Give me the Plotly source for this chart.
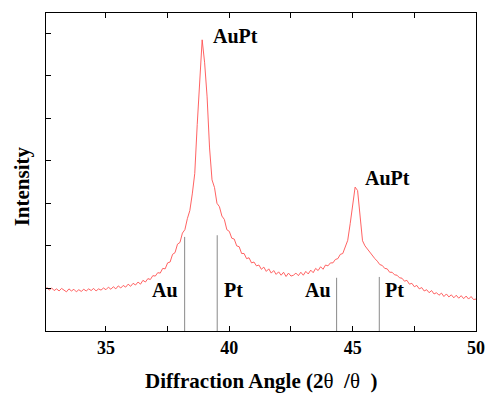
import numpy as np
import plotly.graph_objects as go

# Diffraction angle grid (2θ, degrees) and measured intensity (arb. units)
x_start, x_step = 32.6, 0.1
intensity = [
    1.03, 0.96, 1.01, 0.95,
    0.99, 0.94, 1.00, 0.95, 0.92, 0.99, 0.94, 0.98, 0.92, 0.97,
    0.93, 0.98, 0.94, 0.99, 0.95, 1.00, 0.94, 0.99, 0.96, 1.01,
    0.97, 1.03, 0.98, 1.04, 0.99, 1.06, 1.01, 1.07, 1.03, 1.10,
    1.05, 1.12, 1.08, 1.15, 1.10, 1.19, 1.15, 1.23, 1.21, 1.30,
    1.29, 1.37, 1.36, 1.47, 1.46, 1.60, 1.62, 1.80, 1.84, 2.04,
    2.08, 2.30, 2.38, 2.64, 2.83, 3.22, 3.70, 4.85, 5.90, 6.84,
    6.30, 5.50, 4.30, 3.55, 3.37, 3.00, 2.92, 2.70, 2.62, 2.38,
    2.34, 2.18, 2.16, 2.00, 1.98, 1.82, 1.82, 1.70, 1.72, 1.60,
    1.62, 1.53, 1.55, 1.45, 1.50, 1.40, 1.46, 1.36, 1.42, 1.33,
    1.39, 1.31, 1.38, 1.28, 1.36, 1.29, 1.31, 1.36, 1.30, 1.38,
    1.31, 1.40, 1.34, 1.43, 1.37, 1.47, 1.42, 1.51, 1.45, 1.55,
    1.53, 1.60, 1.60, 1.68, 1.70, 1.80, 1.82, 1.97, 2.13, 2.52,
    3.00, 3.38, 3.30, 2.65, 2.12, 2.00, 1.92, 1.84, 1.78, 1.70,
    1.64, 1.56, 1.54, 1.47, 1.46, 1.38, 1.38, 1.32, 1.31, 1.25,
    1.24, 1.17, 1.19, 1.10, 1.12, 1.04, 1.07, 0.99, 1.02, 0.94,
    0.97, 0.90, 0.95, 0.87, 0.90, 0.84, 0.89, 0.81, 0.87, 0.80,
    0.85, 0.78, 0.84, 0.77, 0.83, 0.76, 0.82, 0.75, 0.81, 0.74,
    0.75,
]
angle = np.round(x_start + x_step * np.arange(len(intensity)), 2)

# Reference (standard) peak positions
ref_labels = ["Au", "Pt", "Au", "Pt"]
ref_pos = [38.19, 39.51, 44.35, 46.08]
ref_height = [2.21, 2.25, 1.25, 1.27]
ref_label_x = [37.41, 40.17, 43.59, 46.71]
ref_label_y = [0.96, 0.96, 0.96, 0.96]

# Peak annotations
peak_labels = ["AuPt", "AuPt"]
peak_label_x = [40.24, 46.42]
peak_label_y = [6.92, 3.59]

x_tickvals = [32.5, 35, 37.5, 40, 42.5, 45, 47.5, 50]
x_ticktext = ["", "35", "", "40", "", "45", "", "50"]
y_tickvals = [1, 2, 3, 4, 5, 6, 7]

FONT = "Liberation Serif, Times New Roman, serif"
THETA = "<span style='font-weight:normal'>θ</span>"

fig = go.Figure()
for xp, h in zip(ref_pos, ref_height):
    fig.add_trace(go.Scatter(x=[xp, xp], y=[0, h], mode="lines",
                             line=dict(color="#8a8a8a", width=1),
                             showlegend=False, hoverinfo="skip"))
fig.add_trace(go.Scatter(x=angle, y=intensity, mode="lines",
                         line=dict(color="rgb(255,80,80)", width=0.9),
                         showlegend=False))

for t, xx, yy in zip(ref_labels, ref_label_x, ref_label_y):
    fig.add_annotation(x=xx, y=yy, text=t, showarrow=False,
                       font=dict(family=FONT, size=20, color="black", weight="bold"))
for t, xx, yy in zip(peak_labels, peak_label_x, peak_label_y):
    fig.add_annotation(x=xx, y=yy, text=t, showarrow=False,
                       font=dict(family=FONT, size=20, color="black", weight="bold"))

fig.add_annotation(xref="paper", yref="paper", x=0.5, y=0, yshift=-50,
                   xanchor="center", yanchor="middle",
                   text="Diffraction Angle (2" + THETA + "  /" + THETA + "  )",
                   showarrow=False,
                   font=dict(family=FONT, size=21, color="black", weight="bold"))
fig.add_annotation(xref="paper", yref="paper", x=0, y=0.455, xshift=-24,
                   xanchor="center", yanchor="middle",
                   text="Intensity", textangle=-90, showarrow=False,
                   font=dict(family=FONT, size=21, color="black", weight="bold"))

fig.update_layout(
    width=487, height=393,
    margin=dict(l=46, r=11, t=13, b=62, autoexpand=False),
    paper_bgcolor="white", plot_bgcolor="white",
    font=dict(family=FONT, color="black"),
    xaxis=dict(range=[32.57, 50], tickvals=x_tickvals, ticktext=x_ticktext,
               ticks="inside", ticklen=5, tickwidth=1, tickcolor="black",
               showline=True, linecolor="black", linewidth=1.2, mirror="ticks",
               showgrid=False, zeroline=False, automargin=False,
               tickfont=dict(family=FONT, size=18, color="black", weight="bold")),
    yaxis=dict(range=[0, 7.47], tickvals=y_tickvals, showticklabels=False,
               ticks="inside", ticklen=5, tickwidth=1, tickcolor="black",
               showline=True, linecolor="black", linewidth=1.2, mirror=True,
               showgrid=False, zeroline=False, automargin=False),
)

fig.write_html("out.html", config={"displayModeBar": False},
               post_script="document.body.style.margin='0px';document.body.style.overflow='hidden';")
